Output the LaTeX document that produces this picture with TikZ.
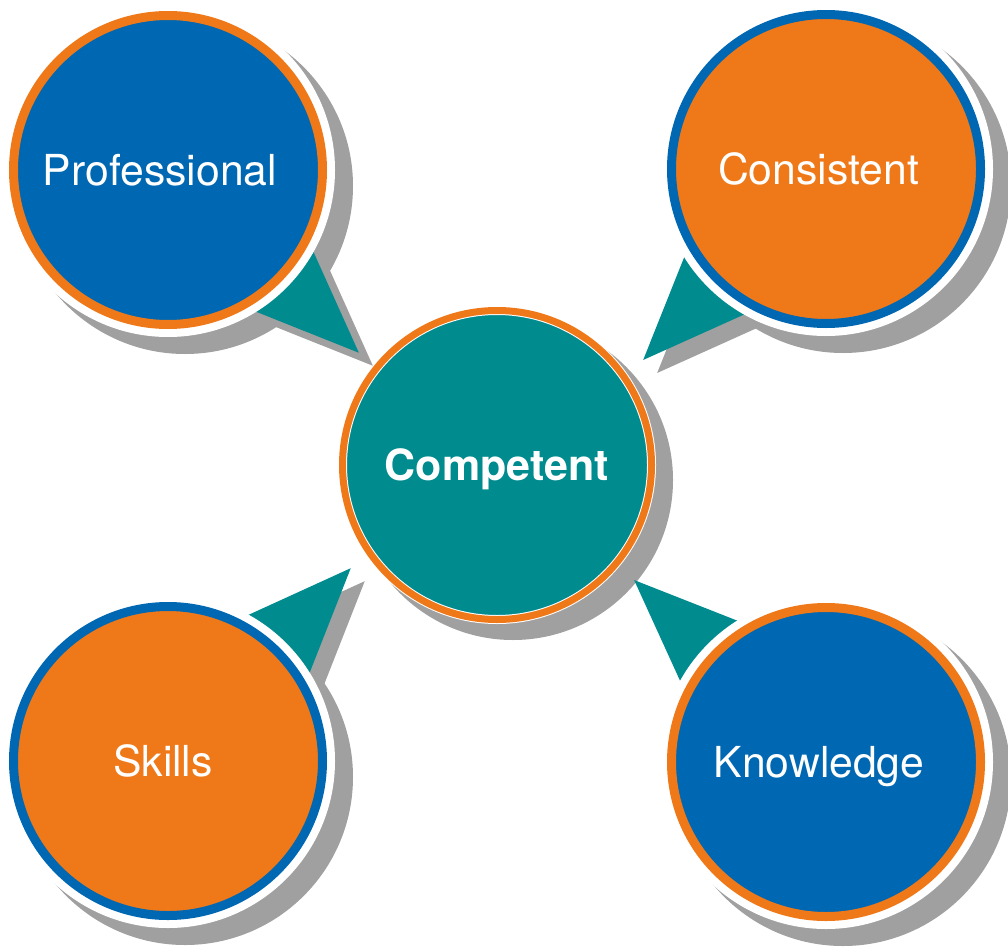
\documentclass[tikz,border=0pt]{standalone}
\usepackage{fontspec}
\setmainfont{TeX Gyre Heros}
\usetikzlibrary{calc}
\definecolor{cblue}{RGB}{0,103,178}
\definecolor{corange}{RGB}{239,121,25}
\definecolor{cteal}{RGB}{0,139,143}
\definecolor{cshadow}{RGB}{160,160,160}
\pgfdeclarelayer{bg}
\pgfsetlayers{bg,main}
\begin{document}
\begin{tikzpicture}[x=1pt,y=-1pt,
  outerball/.style={circle, inner sep=0pt, minimum size=309pt, line width=9pt,
    text=white, font=\fontsize{42.7}{50}\selectfont, text height=30pt, text depth=0pt,
    preaction={draw=white, line width=25pt}},
  blueball/.style={outerball, fill=cblue, draw=corange},
  orangeball/.style={outerball, fill=corange, draw=cblue},
  centreball/.style={circle, inner sep=0pt, minimum size=309pt, fill=cteal,
    draw=white, line width=1pt, double=corange, double distance=7pt,
    text=white, font=\fontsize{43}{50}\selectfont\bfseries, text height=31pt, text depth=0pt},
  shadowfill/.style={fill=cshadow},
  pointer/.style={fill=cteal}
]
\useasboundingbox (0,0) rectangle (1008,947);

\node[blueball]   (P) at (168,170) {\hspace*{-16pt}Professional};
\node[orangeball] (C) at (826,169) {\hspace*{-15pt}Consistent};
\node[orangeball] (S) at (168,761) {\hspace*{-10pt}Skills};
\node[blueball]   (K) at (826,762) {\hspace*{-14pt}Knowledge};
\node[centreball] (M) at (497,465) {Competent};

\begin{pgfonlayer}{bg}
  % tips of the pointers, next to the centre circle
  \coordinate (tP) at ($(M.center)+(140.9:178pt)$);
  \coordinate (tC) at ($(M.center)+(35.7:180pt)$);
  \coordinate (tS) at ($(M.center)+(215.2:179pt)$);
  \coordinate (tK) at ($(M.center)+(-40:179pt)$);
  \foreach \t/\c in {tP/P, tC/C, tS/S, tK/K}{
    \coordinate (\t a) at ($(\t)!230pt!22:(\c.center)$);
    \coordinate (\t b) at ($(\t)!230pt!-22:(\c.center)$);
  }
  % shadows
  \foreach \c in {P,C,S,K}
    \fill[shadowfill] ($(\c.center)+(17,16)$) circle[radius=168pt];
  \fill[shadowfill] ($(M.center)+(16,15)$) circle[radius=160pt];
  \foreach \t in {tP,tC,tS,tK}
    \fill[shadowfill] ($(\t)+(14,13)$) -- ($(\t a)+(14,13)$) -- ($(\t b)+(14,13)$) -- cycle;
  % pointers
  \foreach \t in {tP,tC,tS,tK}
    \fill[pointer] (\t) -- (\t a) -- (\t b) -- cycle;
\end{pgfonlayer}
\end{tikzpicture}
\end{document}
